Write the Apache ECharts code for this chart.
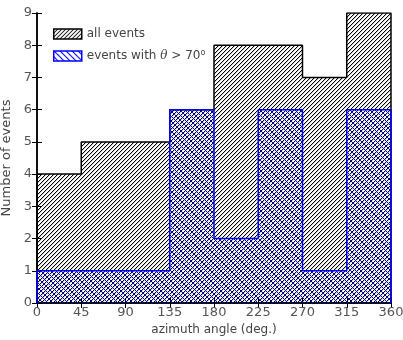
<!DOCTYPE html>
<html>
<head>
<meta charset="utf-8">
<script src="https://cdn.jsdelivr.net/npm/echarts@6/dist/echarts.min.js"></script>
<style>
html, body { margin: 0; padding: 0; background: #fff; }
#chart { width: 403px; height: 340px; }
</style>
</head>
<body>
<div id="chart"></div>
<script>
// histogram bins (deg.)
var binEdges = [0, 45, 90, 135, 180, 225, 270, 315, 360];
var allEvents = [4, 5, 5, 6, 8, 8, 7, 9];
var highTheta = [1, 1, 1, 6, 2, 6, 1, 6];
var xTicks = [0, 45, 90, 135, 180, 225, 270, 315, 360];
var yTicks = [0, 1, 2, 3, 4, 5, 6, 7, 8, 9];

var FONT = 'DejaVu Sans';

// pixel hatch tile, dir > 0 is "/", dir < 0 is "\"
function hatch(color, size, dir, soft) {
    var c = document.createElement('canvas');
    c.width = size; c.height = size;
    var ctx = c.getContext('2d');
    for (var x = 0; x < size; x++) {
        var y = dir > 0 ? size - 1 - x : x;
        ctx.globalAlpha = 1;
        ctx.fillStyle = color;
        ctx.fillRect(x, y, 1, 1);
        if (soft) {
            ctx.globalAlpha = soft;
            ctx.fillRect((x + 1) % size, y, 1, 1);
        }
    }
    return { image: c, repeat: 'repeat' };
}

// step outline points from bins
function stepPoints(counts) {
    var pts = [[binEdges[0], 0]];
    for (var i = 0; i < counts.length; i++) {
        pts.push([binEdges[i], counts[i]]);
    }
    pts.push([binEdges[binEdges.length - 1], counts[counts.length - 1]]);
    pts.push([binEdges[binEdges.length - 1], 0]);
    return pts;
}

var blackHatch = hatch('#000', 4, 1, 0.2);
var blueHatch = hatch('#0000ff', 5, -1, 0);
var blueLegend = hatch('#0000ff', 6, -1, 0.5);

var chart = echarts.init(document.getElementById('chart'), null, { renderer: 'canvas' });

var axisBase = {
    type: 'value',
    axisLine: { show: true, lineStyle: { color: '#000', width: 1.5 } },
    axisTick: { show: true, inside: true, length: 5, lineStyle: { color: '#000', width: 1 } },
    splitLine: { show: false }
};

chart.setOption({
    animation: false,
    grid: { left: 37, right: 12, top: 13, bottom: 37, outerBoundsMode: 'none', containLabel: false },
    legend: {
        orient: 'vertical',
        left: 48, top: 23,
        itemWidth: 28, itemHeight: 10, itemGap: 9,
        textStyle: { fontFamily: FONT, fontSize: 12, color: '#444',
            rich: {
                n: { fontFamily: FONT, fontSize: 12, color: '#444' },
                i: { fontFamily: 'DejaVu Serif', fontStyle: 'italic', fontSize: 12, color: '#444' },
                d: { fontFamily: FONT, fontSize: 8, color: '#444', verticalAlign: 'top', padding: [0, 0, 6, 0] }
            } },
        formatter: function (name) {
            return name === 'events with θ > 70°' ? '{n|events with }{i|θ}{n| > 70}{d|o}' : name;
        },
        data: [
            { name: 'all events', icon: 'rect', itemStyle: { color: blackHatch, borderColor: '#000', borderWidth: 1.5 } },
            { name: 'events with θ > 70°', icon: 'rect', itemStyle: { color: blueLegend, borderColor: '#0000ff', borderWidth: 1.5 } }
        ]
    },
    xAxis: [
        Object.assign({}, axisBase, {
            min: 0, max: 360, interval: 45,
            name: 'azimuth angle (deg.)', nameLocation: 'middle', nameGap: 21,
            nameTextStyle: { fontFamily: FONT, fontSize: 12, color: '#444' },
            axisLabel: { fontFamily: FONT, fontSize: 13, color: '#555', margin: 3,
                formatter: function (v) { return xTicks.indexOf(v) >= 0 ? String(v) : ''; } }
        }),
        Object.assign({}, axisBase, {
            position: 'top', min: 0, max: 360, interval: 45,
            axisLabel: { show: false }
        })
    ],
    yAxis: [
        Object.assign({}, axisBase, {
            min: 0, max: 9, interval: 1,
            name: 'Number of events', nameLocation: 'middle', nameGap: 22,
            nameTextStyle: { fontFamily: FONT, fontSize: 13, color: '#444' },
            axisLabel: { fontFamily: FONT, fontSize: 13, color: '#555', margin: 5,
                formatter: function (v) { return yTicks.indexOf(v) >= 0 ? String(v) : ''; } }
        }),
        Object.assign({}, axisBase, {
            position: 'right', min: 0, max: 9, interval: 1,
            axisLabel: { show: false }
        })
    ],
    series: [
        {
            name: 'all events',
            type: 'line',
            step: 'end',
            symbol: 'none',
            data: stepPoints(allEvents),
            lineStyle: { color: '#000', width: 1.5 },
            itemStyle: { color: '#000' },
            areaStyle: { color: blackHatch, opacity: 1, origin: 'start' },
            z: 2
        },
        {
            name: 'events with θ > 70°',
            type: 'line',
            step: 'end',
            symbol: 'none',
            data: stepPoints(highTheta),
            lineStyle: { color: '#0000ff', width: 1.5 },
            itemStyle: { color: '#0000ff' },
            areaStyle: { color: blueHatch, opacity: 1, origin: 'start' },
            z: 3
        }
    ]
});
</script>
</body>
</html>
